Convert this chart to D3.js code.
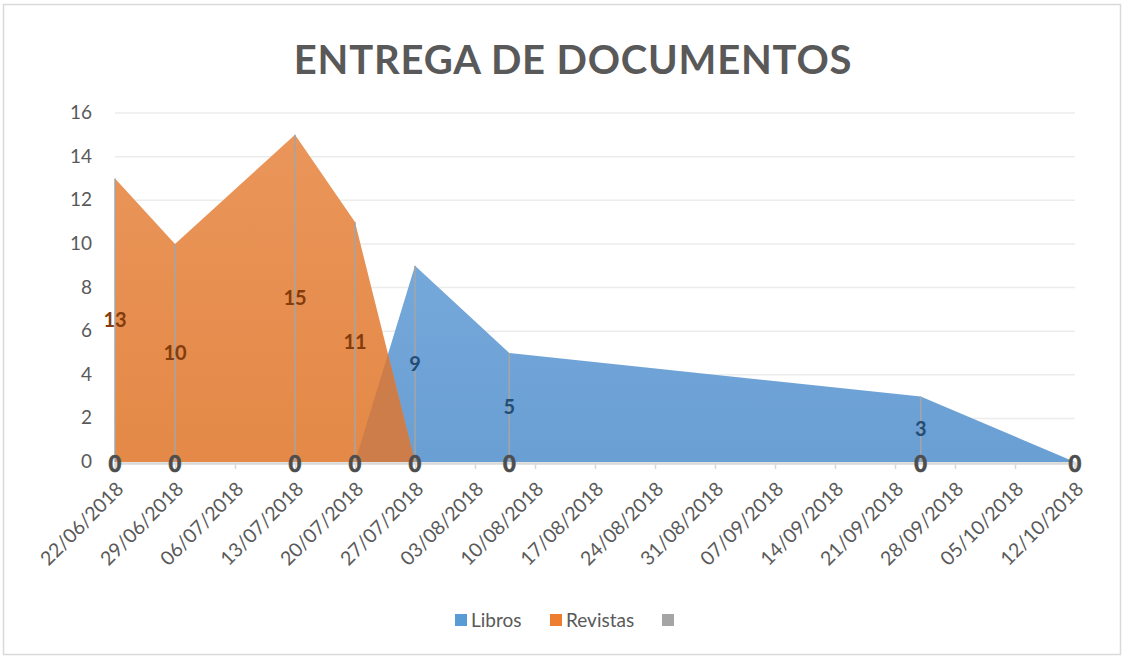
<!DOCTYPE html>
<html><head><meta charset="utf-8">
<script src="https://cdn.jsdelivr.net/npm/d3@7"></script>
<style>body{margin:0;background:#fff}svg{display:block}</style>
</head><body><svg id="c" width="1124" height="658"></svg>
<script>
const dates = ["22/06/2018","29/06/2018","13/07/2018","20/07/2018","27/07/2018","07/08/2018","24/09/2018","12/10/2018"];
const libros = [null,null,null,0,9,5,3,0];
const revistas = [13,10,15,11,0,null,null,null];
const serie3 = [0,0,0,0,0,0,0,0];
const yTicks = [0,2,4,6,8,10,12,14,16];
const xTickLabels = ["22/06/2018","29/06/2018","06/07/2018","13/07/2018","20/07/2018","27/07/2018","03/08/2018","10/08/2018","17/08/2018","24/08/2018","31/08/2018","07/09/2018","14/09/2018","21/09/2018","28/09/2018","05/10/2018","12/10/2018"];
const title = "ENTREGA DE DOCUMENTOS";
const legendNames = ["Libros","Revistas",""];

const parse = d3.timeParse("%d/%m/%Y");
const fmt = d3.timeFormat("%d/%m/%Y");
const D = dates.map(parse);
const svg = d3.select("#c");
const font = "Lato, 'Open Sans', sans-serif";
const grey = "#595959";

svg.append("rect").attr("x",3.5).attr("y",4.5).attr("width",1117).attr("height",650).attr("fill","#fff").attr("stroke","#D9D9D9").attr("stroke-width",1.5);

const x = d3.scaleTime().domain([D[0], D[D.length-1]]).range([115,1075]);
const y = d3.scaleLinear().domain([0,16]).range([462,113]);

const defs = svg.append("defs");
const gO = defs.append("linearGradient").attr("id","gO").attr("x1",0).attr("x2",0).attr("y1",0).attr("y2",1);
gO.append("stop").attr("offset","0%").attr("stop-color","#EA955A");
gO.append("stop").attr("offset","100%").attr("stop-color","#E48947");
const gB = defs.append("linearGradient").attr("id","gB").attr("x1",0).attr("x2",0).attr("y1",0).attr("y2",1);
gB.append("stop").attr("offset","0%").attr("stop-color","#75A8DA");
gB.append("stop").attr("offset","100%").attr("stop-color","#6A9FD4");

// gridlines
svg.append("g").selectAll("line").data(yTicks.filter(t=>t>0)).join("line")
  .attr("x1",115).attr("x2",1075).attr("y1",d=>y(d)).attr("y2",d=>y(d))
  .attr("stroke","#ECECEC").attr("stroke-width",1.5);

// y labels
svg.append("g").selectAll("text").data(yTicks).join("text")
  .attr("x",92).attr("y",d=>y(d)+6).attr("text-anchor","end")
  .attr("font-family",font).attr("font-size",19).attr("fill",grey).text(d=>d);

const lData = D.map((d,i)=>({d, v:libros[i]})).filter(p=>p.v!==null);
const rData = D.map((d,i)=>({d, v:revistas[i]})).filter(p=>p.v!==null);
const area = d3.area().x(p=>x(p.d)).y0(y(0)).y1(p=>y(p.v));

svg.append("path").datum(lData).attr("d",area).attr("fill","url(#gB)");
svg.append("path").datum(rData).attr("d",area).attr("fill","url(#gO)");
// overlap region darker
defs.append("clipPath").attr("id","clipR").append("path").datum(rData).attr("d",area);
svg.append("path").datum(lData).attr("d",area).attr("fill","#CD7D49").attr("clip-path","url(#clipR)");

// axis
const ticks = xTickLabels.map(parse);
const ax = svg.append("g").attr("transform","translate(0,463)")
  .call(d3.axisBottom(x).tickValues(ticks).tickSize(6).tickFormat(fmt));
ax.select(".domain").attr("stroke","#D9D9D9").attr("stroke-width",2.5);
ax.selectAll(".tick line").attr("stroke","#D9D9D9").attr("stroke-width",1.5);
ax.selectAll(".tick text").attr("font-family",font).attr("font-size",19.5).attr("fill",grey)
  .attr("text-anchor","end").attr("dx",0).attr("dy",0)
  .attr("transform","translate(3,21) rotate(-45)");

// drop lines
svg.append("g").selectAll("line").data(D).join("line")
  .attr("x1",d=>x(d)).attr("x2",d=>x(d)).attr("y1",y(0))
  .attr("y2",(d,i)=>y(Math.max(libros[i]||0, revistas[i]||0)))
  .attr("stroke","#A5A5A5").attr("stroke-width",1.5);

// labels
function labels(data, color){
  svg.append("g").selectAll("text").data(data.filter(p=>p.v>0)).join("text")
    .attr("x",p=>x(p.d)).attr("y",p=>y(p.v/2)+7).attr("text-anchor","middle")
    .attr("font-family",font).attr("font-weight","bold").attr("font-size",20)
    .attr("fill",color).text(p=>p.v);
}
labels(rData,"#843C0C");
labels(lData,"#1F4E79");
svg.append("g").selectAll("text").data(D.map((d,i)=>({d,v:serie3[i]}))).join("text")
  .attr("x",p=>x(p.d)).attr("y",y(0)+10).attr("text-anchor","middle")
  .attr("font-family",font).attr("font-weight",900).attr("font-size",22)
  .attr("fill","#4D4D4D").attr("stroke","#4D4D4D").attr("stroke-width",0.6).text(p=>p.v);

// title
svg.append("text").attr("x",573).attr("y",74).attr("text-anchor","middle")
  .attr("font-family",font).attr("font-weight","bold").attr("font-size",40)
  .attr("fill",grey).attr("letter-spacing",0.8).text(title);

// legend
const legColors = ["#5B9BD5","#ED7D31","#A5A5A5"];
const legX = [455,550,662];
const lg = svg.append("g");
legendNames.forEach((n,i)=>{
  lg.append("rect").attr("x",legX[i]).attr("y",614).attr("width",12).attr("height",12).attr("fill",legColors[i]);
  lg.append("text").attr("x",legX[i]+16).attr("y",627).attr("font-family",font).attr("font-size",19).attr("fill",grey).text(n);
});
</script></body></html>
